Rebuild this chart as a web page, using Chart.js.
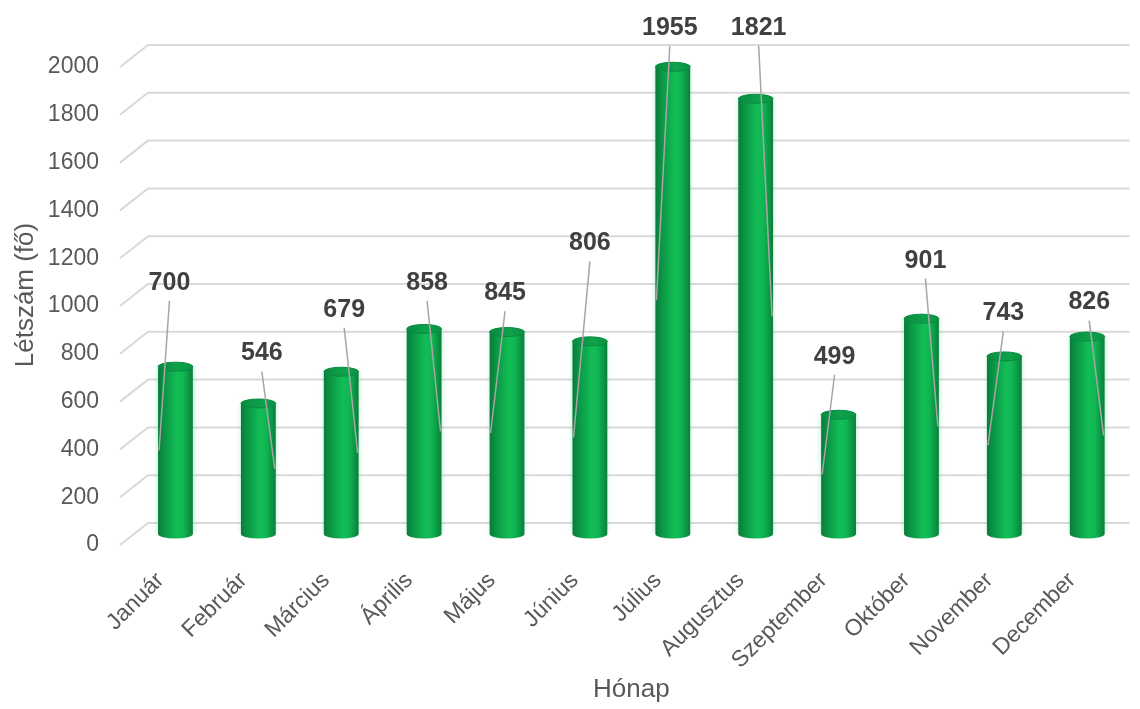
<!DOCTYPE html>
<html>
<head>
<meta charset="utf-8">
<script src="https://cdn.jsdelivr.net/npm/chart.js@4/dist/chart.umd.min.js"></script>
<style>
  html, body { margin: 0; padding: 0; background: #ffffff; overflow: hidden; }
  #wrap { width: 1140px; height: 709px; position: relative; }
  canvas { display: block; }
</style>
</head>
<body>
<div id="wrap"><canvas id="c"></canvas></div>
<script>
// ---- data ----
const categories = ['Január', 'Február', 'Március', 'Április', 'Május', 'Június', 'Július', 'Augusztus', 'Szeptember', 'Október', 'November', 'December'];
const values = [700, 546, 679, 858, 845, 806, 1955, 1821, 499, 901, 743, 826];
const yMin = 0;
const yMax = 2000;
const yStep = 200;
const xTitle = 'Hónap';
const yTitle = 'Létszám (fő)';

// ---- label layout (manually placed data labels with leader lines) ----
const labelDx = [-6, 3.5, 3, 3, -2, 0, -3, 3, -4, 4, -1, 2];
const labelDy = [-84, -50, -62, -46, -39, -98, -39, -71, -58, -58, -43, -34];
const leaderSide = [-1, 1, 1, 1, -1, -1, -1, 1, -1, 1, -1, 1];

const FONT = '"Liberation Sans", Arial, Helvetica, sans-serif';
const DEPTH_X = 14, DEPTH_Y = 11, CAP_RY = 4.5;

function barGradient(ctx, x, w) {
  const g = ctx.createLinearGradient(x - w / 2, 0, x + w / 2, 0);
  g.addColorStop(0.00, '#0a7a3a');
  g.addColorStop(0.18, '#0b9544');
  g.addColorStop(0.55, '#12bd56');
  g.addColorStop(0.72, '#10b652');
  g.addColorStop(0.90, '#0a9443');
  g.addColorStop(1.00, '#087f3a');
  return g;
}

const grid3d = {
  id: 'grid3d',
  beforeDatasetsDraw(chart) {
    const ctx = chart.ctx, ys = chart.scales.y, area = chart.chartArea;
    ctx.save();
    ctx.strokeStyle = '#d9d9d9';
    ctx.lineWidth = 2;
    ys.ticks.forEach(t => {
      const y = ys.getPixelForValue(t.value);
      ctx.beginPath();
      ctx.moveTo(area.left - DEPTH_X, y + DEPTH_Y);
      ctx.lineTo(area.left + DEPTH_X, y - DEPTH_Y);
      ctx.lineTo(area.right + 1, y - DEPTH_Y);
      ctx.stroke();
    });
    ctx.restore();
    ctx.save();
    ctx.shadowColor = 'rgba(90, 220, 150, 0.55)';
    ctx.shadowBlur = 5;
  },
  afterDatasetsDraw(chart) {
    const ctx = chart.ctx;
    ctx.restore();
    const meta = chart.getDatasetMeta(0);
    ctx.save();
    meta.data.forEach((bar, i) => {
      const x = bar.x, top = bar.y, base = bar.base, w = bar.width;
      const rx = w / 2;
      // bottom rounded edge
      ctx.beginPath();
      ctx.ellipse(x, base, rx, CAP_RY, 0, 0, Math.PI);
      ctx.closePath();
      ctx.fillStyle = barGradient(ctx, x, w);
      ctx.fill();
      // top cap
      ctx.beginPath();
      ctx.ellipse(x, top, rx, CAP_RY, 0, 0, Math.PI * 2);
      const cg = ctx.createLinearGradient(x - rx, 0, x + rx, 0);
      cg.addColorStop(0, '#0a8a40');
      cg.addColorStop(0.6, '#0ea24b');
      cg.addColorStop(1, '#0b9244');
      ctx.fillStyle = cg;
      ctx.fill();
      ctx.strokeStyle = '#0a8a40';
      ctx.lineWidth = 1;
      ctx.stroke();
    });
    // data labels with leader lines
    meta.data.forEach((bar, i) => {
      const x = bar.x, top = bar.y, base = bar.base, w = bar.width;
      const lx = x + labelDx[i], ly = top + labelDy[i];
      const ex = x + leaderSide[i] * (w / 2 - 1), ey = (top + base) / 2;
      ctx.beginPath();
      ctx.moveTo(lx, ly + 18);
      ctx.lineTo(ex, ey);
      ctx.strokeStyle = '#a6a6a6';
      ctx.lineWidth = 1.5;
      ctx.stroke();
      ctx.font = 'bold 25px ' + FONT;
      ctx.fillStyle = '#404040';
      ctx.textAlign = 'center';
      ctx.textBaseline = 'middle';
      ctx.fillText(String(values[i]), lx, ly);
    });
    ctx.restore();
  }
};

new Chart(document.getElementById('c'), {
  type: 'bar',
  data: {
    labels: categories,
    datasets: [{
      data: values,
      backgroundColor: (c) => {
        const chart = c.chart;
        if (!chart.chartArea || c.dataIndex === undefined) return '#0fae50';
        const xs = chart.scales.x;
        const x = xs.getPixelForValue(c.dataIndex);
        const w = (chart.chartArea.width / categories.length) * 0.42;
        return barGradient(chart.ctx, x, w);
      },
      borderWidth: 0,
      barPercentage: 0.42,
      categoryPercentage: 1.0
    }]
  },
  options: {
    responsive: true,
    maintainAspectRatio: false,
    animation: false,
    devicePixelRatio: 1,
    layout: { autoPadding: false, padding: { top: 56, right: 6, left: 0, bottom: 0 } },
    plugins: { legend: { display: false }, tooltip: { enabled: false } },
    scales: {
      x: {
        grid: { display: false, drawTicks: false },
        border: { display: false },
        ticks: {
          font: { family: FONT, size: 23 },
          color: '#595959',
          minRotation: 45,
          maxRotation: 45,
          padding: 33,
          labelOffset: -15,
          autoSkip: false
        },
        title: {
          display: true,
          text: xTitle,
          font: { family: FONT, size: 26 },
          color: '#595959',
          padding: { top: 0, bottom: 4 }
        },
        afterFit: (s) => { s.height = 175; }
      },
      y: {
        min: yMin,
        max: yMax,
        grid: { display: false, drawTicks: false },
        border: { display: false },
        ticks: {
          stepSize: yStep,
          font: { family: FONT, size: 23 },
          color: '#595959',
          padding: 35,
          labelOffset: 11,
          callback: (v) => String(v)
        },
        title: {
          display: true,
          text: yTitle,
          font: { family: FONT, size: 26 },
          color: '#595959',
          padding: { top: 10, bottom: 0 }
        },
        afterFit: (s) => { s.width = 134; }
      }
    }
  },
  plugins: [grid3d]
});
</script>
</body>
</html>
